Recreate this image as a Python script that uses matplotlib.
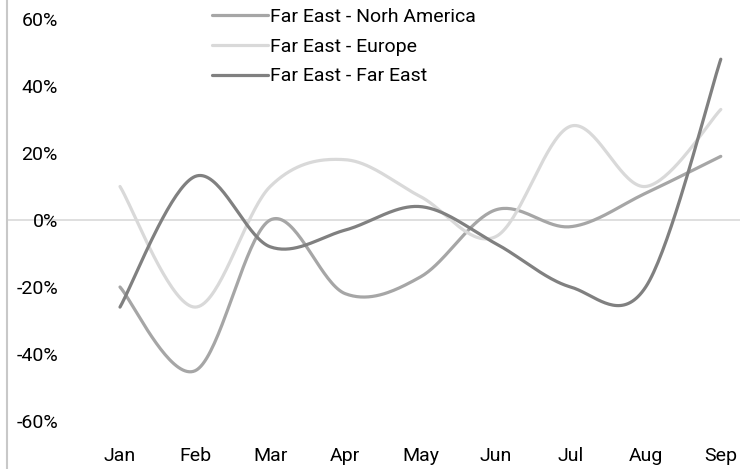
import numpy as np
import matplotlib
matplotlib.use("Agg")
import matplotlib.pyplot as plt
from matplotlib.ticker import FuncFormatter

months = ["Jan", "Feb", "Mar", "Apr", "May", "Jun", "Jul", "Aug", "Sep"]
north_america = [-20, -45, 0, -22, -17, 3, -2, 8, 19]
europe = [10, -26, 10, 18, 7, -5, 28, 10, 33]
far_east = [-26, 13, -8, -3, 4, -7, -20, -20, 48]
series_names = ["Far East - Norh America", "Far East - Europe", "Far East - Far East"]
series_colors = ["#a6a6a6", "#d9d9d9", "#808080"]


def smooth(y, n=40):
    """
    Excel-like smoothed line: Catmull-Rom segments drawn as cubic Beziers.
    """
    y = np.asarray(y, dtype=float)
    x = np.arange(len(y), dtype=float)
    pts = np.column_stack([x, y])
    out = []
    t = np.linspace(0, 1, n)
    for i in range(len(pts) - 1):
        p0 = pts[max(i - 1, 0)]
        p1 = pts[i]
        p2 = pts[i + 1]
        p3 = pts[min(i + 2, len(pts) - 1)]
        c1 = p1 + (p2 - p0) / 6.0
        c2 = p2 - (p3 - p1) / 6.0
        seg = ((1 - t) ** 3)[:, None] * p1 + (3 * (1 - t) ** 2 * t)[:, None] * c1 \
            + (3 * (1 - t) * t ** 2)[:, None] * c2 + (t ** 3)[:, None] * p2
        out.append(seg if i == 0 else seg[1:])
    out = np.vstack(out)
    return out[:, 0], out[:, 1]


plt.rcParams['font.family'] = ['Roboto', 'DejaVu Sans']

W, H = 740, 469
fig = plt.figure(figsize=(W / 100, H / 100), dpi=100)
# axes box in pixels: left 7, top 0, right 740, bottom 469
ax = fig.add_axes([7 / W, 0, (W - 7) / W, 1])

px_per_cat = 75.1
ax.set_xlim((7 - 120) / px_per_cat, (740 - 120) / px_per_cat)
px_per_pct = 3.35
ax.set_ylim(-(H - 220) / px_per_pct, 220 / px_per_pct)

ax.axhline(0, color="#d9d9d9", lw=1.2, zorder=1)

for vals, name, col in zip([north_america, europe, far_east], series_names, series_colors):
    xs, ys = smooth(vals)
    ax.plot(xs, ys, color=col, lw=2.3, label=name, solid_capstyle="round", zorder=3)

ax.set_xticks(range(len(months)))
ax.set_xticklabels(months)
ax.set_yticks([-60, -40, -20, 0, 20, 40, 60])
ax.yaxis.set_major_formatter(FuncFormatter(lambda v, p: f"{v:.0f}%"))
ax.tick_params(axis="both", length=0, labelsize=14, colors="#000000")
ax.tick_params(axis="y", pad=-36.7)
ax.tick_params(axis="x", pad=-15.8)

for s in ["top", "right", "bottom"]:
    ax.spines[s].set_visible(False)
ax.spines["left"].set_color("#c8c8c8")
ax.spines["left"].set_linewidth(1.5)

leg = ax.legend(loc="upper left", bbox_to_anchor=((212 - 7) / (W - 7), 1 - 8 / H), frameon=False,
                fontsize=14, handlelength=2.9, handletextpad=0.1, labelspacing=0.6,
                borderpad=0, borderaxespad=0)

fig.savefig("out.png", dpi=100)
